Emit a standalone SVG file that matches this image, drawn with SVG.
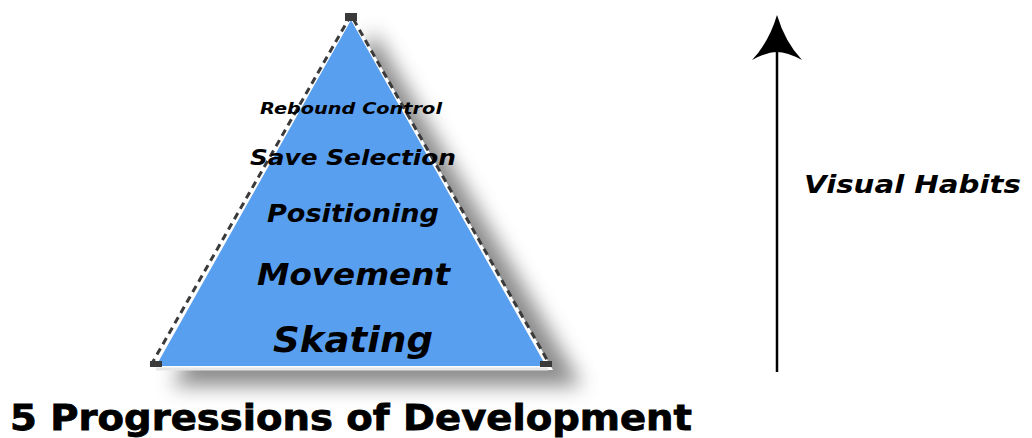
<svg xmlns="http://www.w3.org/2000/svg" width="1032" height="438" viewBox="0 0 1032 438">
  <style>
    .lbl { font-family: "DejaVu Sans", "Liberation Sans", sans-serif; font-weight: bold; font-style: italic; fill: #000; }
    .title { font-family: "DejaVu Sans", "Liberation Sans", sans-serif; font-weight: bold; fill: #000; stroke: #000; stroke-width: 0.8; }
    .edge { fill: none; stroke: #3a3a3a; stroke-width: 3; stroke-dasharray: 7 5; stroke-linecap: butt; }
  </style>
  <defs>
    <filter id="soft" x="-20%" y="-20%" width="150%" height="150%">
      <feGaussianBlur stdDeviation="10"/>
    </filter>
  </defs>
  <rect width="1032" height="438" fill="#fff"/>

  <!-- pyramid with soft drop shadow -->
  <g id="pyramid">
    <polygon points="374,32 582,386 172,386" fill="#6e6e6e" opacity="0.8" filter="url(#soft)"/>
    <polygon points="351,14 553,370 150,370" fill="#fff"/>
    <polygon points="351,20 546,366 156,366" fill="#599ff0"/>
    <line x1="156" y1="369" x2="548" y2="369" stroke="#e6e6e6" stroke-width="3"/>
    <path class="edge" d="M151,365 L351,15 L550,365"/>
    <rect x="345" y="13" width="12" height="8" fill="#3a3a3a"/>
    <rect x="150" y="361" width="12" height="6" fill="#3a3a3a"/>
    <rect x="540" y="361" width="12" height="6" fill="#3a3a3a"/>
  </g>

  <g id="level-rebound"><text class="lbl" x="260" y="114" font-size="16" textLength="182" lengthAdjust="spacingAndGlyphs">Rebound Control</text></g>
  <g id="level-save"><text class="lbl" x="250" y="165" font-size="22" textLength="206" lengthAdjust="spacingAndGlyphs">Save Selection</text></g>
  <g id="level-positioning"><text class="lbl" x="267" y="222" font-size="25" textLength="172" lengthAdjust="spacingAndGlyphs">Positioning</text></g>
  <g id="level-movement"><text class="lbl" x="257" y="285" font-size="31" textLength="193" lengthAdjust="spacingAndGlyphs">Movement</text></g>
  <g id="level-skating"><text class="lbl" x="273" y="352" font-size="36" textLength="160" lengthAdjust="spacingAndGlyphs">Skating</text></g>

  <g id="title"><text class="title" x="10" y="430" font-size="35" textLength="682" lengthAdjust="spacingAndGlyphs">5 Progressions of Development</text></g>

  <!-- progression arrow -->
  <g id="connectors">
    <line x1="777" y1="372" x2="777" y2="50" stroke="#000" stroke-width="2.5"/>
    <path d="M777,15 Q785,42 802,60 Q787,52 777,52 Q767,52 752,60 Q769,42 777,15 Z" fill="#000"/>
  </g>

  <g id="visual-habits"><text class="lbl" x="804" y="193" font-size="24" textLength="217" lengthAdjust="spacingAndGlyphs">Visual Habits</text></g>
</svg>
